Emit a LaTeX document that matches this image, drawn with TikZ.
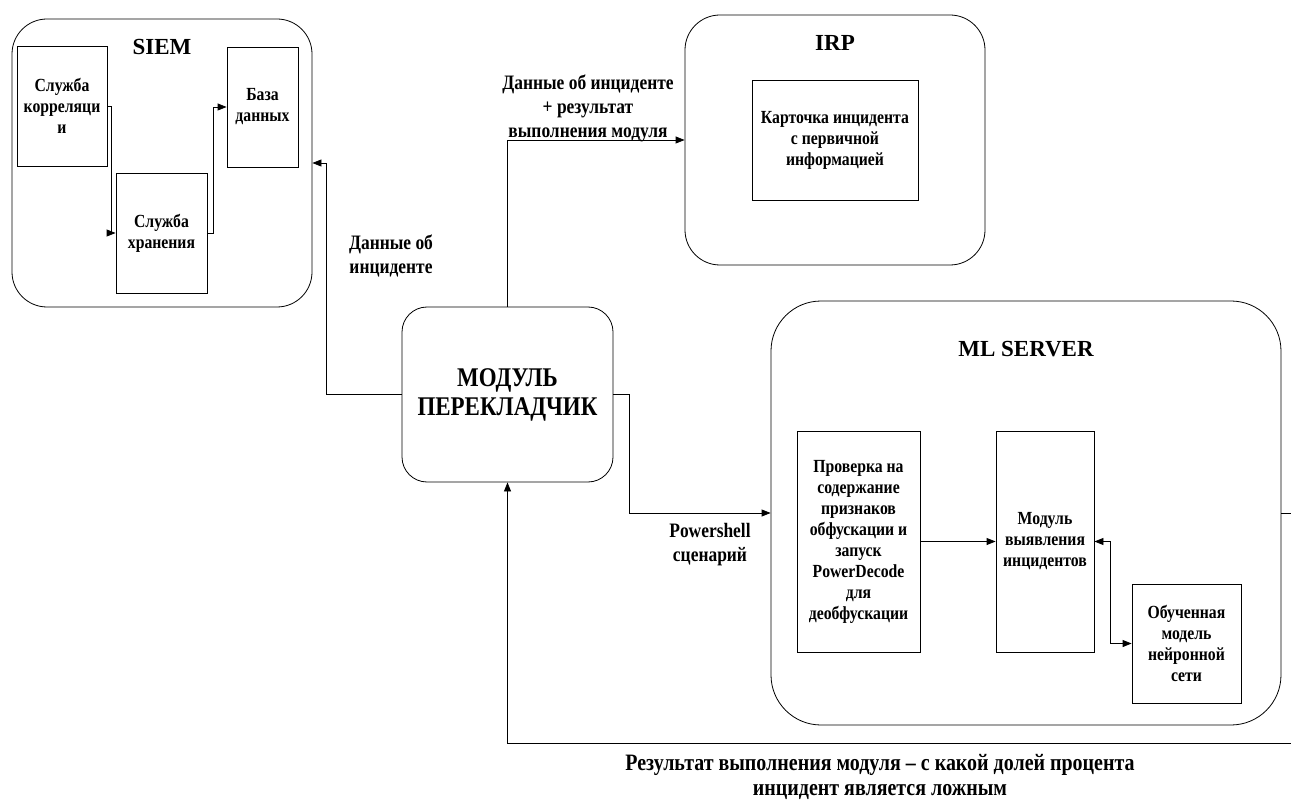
\documentclass[tikz,border=0pt]{standalone}
\usepackage{fontspec}
\setmainfont{Liberation Serif}
\newfontfamily\narrowfont[FakeStretch=0.85]{Liberation Serif}
\usetikzlibrary{arrows.meta}

\tikzset{
    outerbox/.style={draw, line width=0.8pt, rounded corners=35pt},
    block/.style={draw, line width=0.8pt, inner sep=0pt, align=center, font=\narrowfont\bfseries\fontsize{18.5}{21}\selectfont},
    title/.style={font=\bfseries\fontsize{23}{28}\selectfont},
    lbl/.style={align=center, font=\narrowfont\bfseries\fontsize{20.5}{24}\selectfont},
    flow/.style={-{Triangle[length=9pt,width=7pt]}, line width=0.8pt},
}

\begin{document}
\begin{tikzpicture}[x=1pt, y=-1pt]
    \useasboundingbox (0, 0) rectangle (1291, 802);

    \node[outerbox, minimum width=300pt, minimum height=288pt] (siem) at (162, 163) {};
    \node[title] (siemt) at (162, 47) {SIEM};
    \node[block, minimum width=90pt, minimum height=120pt] (corr) at (62, 106) {Служба\\корреляци\\и};
    \node[block, minimum width=71pt, minimum height=120pt] (baza) at (262.5, 107) {База\\данных};
    \node[block, minimum width=91pt, minimum height=120pt] (hran) at (161.5, 233) {Служба\\хранения};

    \node[outerbox, minimum width=300pt, minimum height=250pt] (irp) at (835, 140) {};
    \node[title] (irpt) at (835, 43) {IRP};
    \node[block, minimum width=166pt, minimum height=120pt] (card) at (835, 140) {Карточка инцидента\\с первичной\\информацией};

    \node[outerbox, rounded corners=25pt, minimum width=211pt, minimum height=175pt, font=\narrowfont\bfseries\fontsize{27}{29}\selectfont, align=center] (modul) at (507.5, 394.5) {МОДУЛЬ\\ПЕРЕКЛАДЧИК};

    \node[outerbox, rounded corners=50pt, minimum width=510pt, minimum height=424pt] (ml) at (1026, 513) {};
    \node[title] (mlt) at (1026, 349) {ML SERVER};
    \node[block, minimum width=123pt, minimum height=221pt] (check) at (858.5, 541.5) {Проверка на\\содержание\\признаков\\обфускации и\\запуск\\PowerDecode\\для\\деобфускации};
    \node[block, minimum width=98pt, minimum height=221pt] (detect) at (1045, 541.5) {Модуль\\выявления\\инцидентов};
    \node[block, minimum width=109pt, minimum height=119pt] (neuro) at (1186.5, 643.5) {Обученная\\модель\\нейронной\\сети};

    \node[lbl] (l1) at (391, 256) {Данные об\\инциденте};
    \node[lbl] (l2) at (588, 108) {Данные об инциденте\\+ результат\\выполнения модуля};
    \node[lbl] (l3) at (710, 545) {Powershell\\сценарий};
    \node[lbl, font=\narrowfont\bfseries\fontsize{23.5}{25}\selectfont] (l4) at (880, 777) {Результат выполнения модуля – с какой долей процента\\инцидент является ложным};

    \coordinate (edge) at (1300, 743);

    \draw[flow] (corr.east) -- ++(4, 0) |- (hran.west);
    \draw[flow] (hran.east) -- ++(6, 0) |- (baza.west);
    \draw[flow] (modul.west) -- ++(-75, 0) |- (siem.east);
    \draw[flow] (modul.north) |- (irp.west);
    \draw[flow] (modul.east) -- ++(16, 0) |- (ml.west);
    \draw[flow] (check.east) -- (detect.west);
    \draw[{Triangle[length=9pt,width=7pt]}-{Triangle[length=9pt,width=7pt]}, line width=0.8pt] (detect.east) -- ++(16, 0) |- (neuro.west);
    \draw[flow] (ml.east) -| (edge) -| (modul.south);

\end{tikzpicture}
\end{document}
